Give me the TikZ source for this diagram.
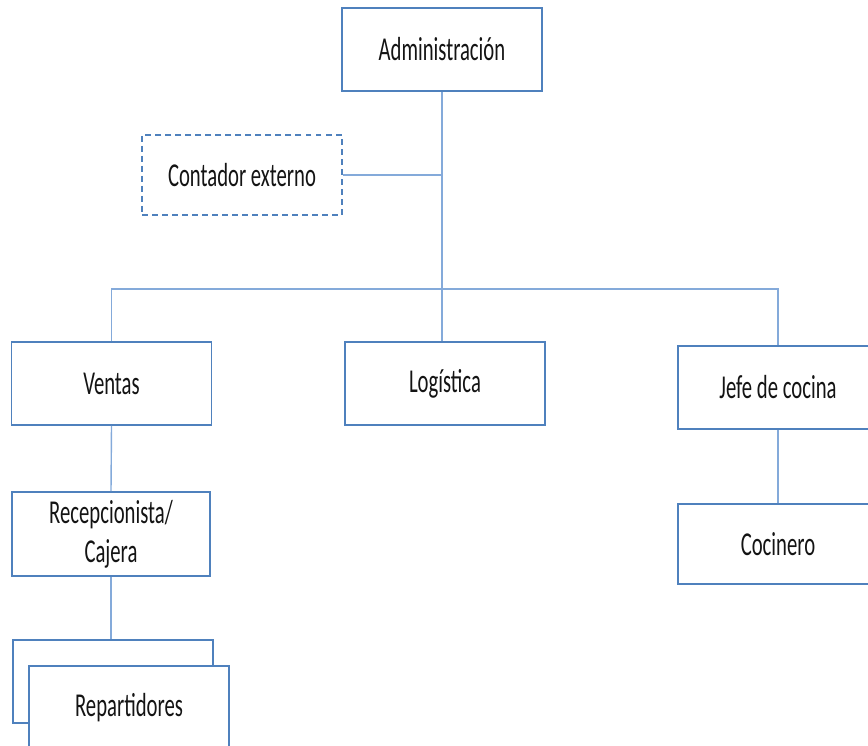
\documentclass[tikz,border=0pt]{standalone}
\usepackage{fontspec}
\newfontfamily\cargofont[FakeStretch=0.62]{Carlito}
\usepackage{tikz}
\usetikzlibrary{calc}
\definecolor{boxblue}{RGB}{79,129,189}
\definecolor{lineblue}{RGB}{132,170,218}
\tikzset{cargo/.style={draw=boxblue,line width=1.1pt,fill=white,minimum width=4cm,minimum height=1.66cm,inner sep=0pt,align=center,font=\cargofont\fontsize{19}{22}\selectfont,text=black!92}}
\tikzset{externo/.style={cargo,line width=0.8pt,dash pattern=on 3.4pt off 2.3pt,minimum height=1.6cm}}
\tikzset{enlace/.style={draw=lineblue,line width=0.8pt}}

\begin{document}
\begin{tikzpicture}[line cap=butt,line join=miter,x=0.02cm,y=-0.02cm]
			\useasboundingbox (0,0) rectangle (868,746);
			\node[cargo] (adm) at (442,49.5) {\raisebox{-2pt}{Administración}};
			\node[externo] (cont) at (242,175) {Contador externo};
			\node[cargo] (ven) at (111.5,383.5) {Ventas};
			\node[cargo] (log) at (445,383.5) {\raisebox{-1pt}{Logística}};
			\node[cargo] (jefe) at (778,387.5) {Jefe de cocina};
			\node[cargo,minimum height=1.6cm] (coc) at (778,544) {Cocinero};
			\node[cargo,minimum height=1.68cm,minimum width=3.96cm] (rec) at (111,534) {Recepcionista/\\Cajera};
			\node[cargo] (repb) at (113,681.5) {};
			\node[cargo] (rep) at (129,707.5) {Repartidores};
			\coordinate (barra) at (442,289);
			\draw[enlace] (adm.south) -- (adm.south |- log.north);
			\draw[enlace] (cont.east) -- (cont.east -| adm.south);
			\draw[enlace] (ven.north) |- (barra) -| (jefe.north);
			\draw[enlace] (ven.south) -- (rec.north);
			\draw[enlace] (rec.south) -- (rec.south |- repb.north);
			\draw[enlace] (jefe.south) -- (coc.north);
			\end{tikzpicture}
\end{document}
